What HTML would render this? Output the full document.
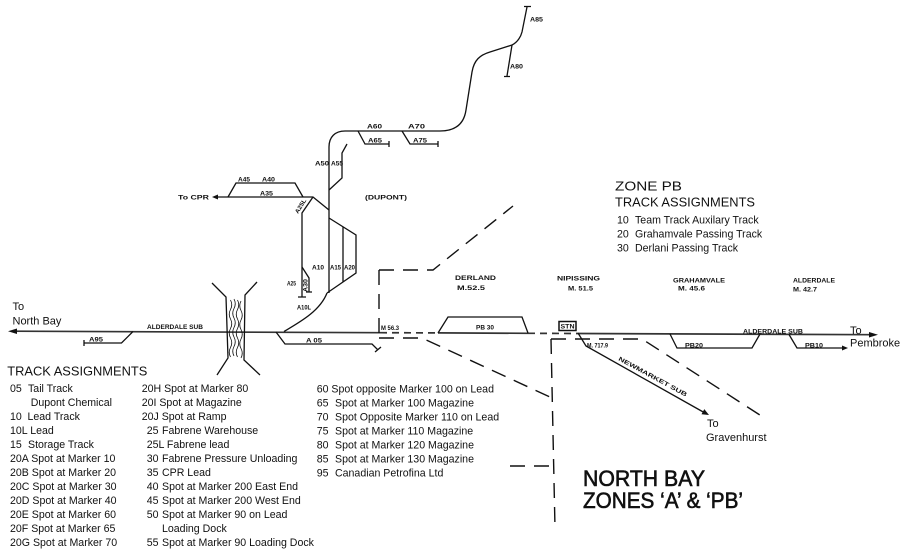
<!DOCTYPE html>
<html>
<head>
<meta charset="utf-8">
<style>
html,body{margin:0;padding:0;background:#fff;}
svg{display:block;}
.s{font-family:"Liberation Sans",sans-serif;font-weight:bold;font-size:6px;fill:#111;}
.t{font-family:"Liberation Sans",sans-serif;font-size:10.6px;fill:#111;}
.h{font-family:"Liberation Sans",sans-serif;font-size:13px;fill:#111;}
.g{font-family:"Liberation Sans",sans-serif;font-size:11px;fill:#111;}
.ti{font-family:"Liberation Sans",sans-serif;font-size:22px;fill:#111;stroke:#111;stroke-width:0.6;}
.ln{fill:none;stroke:#111;stroke-width:1.3;}
.dl{fill:none;stroke:#111;stroke-width:1.4;stroke-dasharray:15 9;}
</style>
</head>
<body>
<svg width="900" height="552" viewBox="0 0 900 552" xmlns="http://www.w3.org/2000/svg">
<rect width="900" height="552" fill="#fff"/>

<!-- main line -->
<g fill="none" stroke="#333" stroke-width="1.7">
<path d="M12,331.2 L380,332.7"/>
<path d="M380,332.7 L438,332.9" stroke-dasharray="7 5"/>
<path d="M438,332.9 L528,333.3"/>
<path d="M528,333.3 L578,333.5" stroke-dasharray="7 5"/>
<path d="M578,333.5 L872,334.7"/>
</g>
<polygon points="8,331.2 17,328.5 17,334" fill="#111"/>
<polygon points="878,334.7 869,332 869,337.5" fill="#111"/>

<!-- A95 siding -->
<path class="ln" d="M133,331.5 L121.5,343 H84 M84,340 V346"/>

<!-- bridge -->
<path class="ln" d="M212,283 L226,297 L228,358 L217,375"/>
<path class="ln" d="M257,282 L245,295 L244,360 L260,375"/>
<g fill="none" stroke="#111" stroke-width="0.8">
<path d="M230.5,300 q2.5,4.75 0,9.5 q-2.5,4.75 0,9.5 q2.5,4.75 0,9.5 q-2.5,4.75 0,9.5 q2.5,4.75 0,9.5 q-2.5,4.75 0,9.5"/>
<path d="M234,299 q2.5,4.75 0,9.5 q-2.5,4.75 0,9.5 q2.5,4.75 0,9.5 q-2.5,4.75 0,9.5 q2.5,4.75 0,9.5 q-2.5,4.75 0,9.5"/>
<path d="M237.5,300 q2.5,4.75 0,9.5 q-2.5,4.75 0,9.5 q2.5,4.75 0,9.5 q-2.5,4.75 0,9.5 q2.5,4.75 0,9.5 q-2.5,4.75 0,9.5"/>
<path d="M241,301 q-2.5,4.75 0,9.5 q2.5,4.75 0,9.5 q-2.5,4.75 0,9.5 q2.5,4.75 0,9.5 q-2.5,4.75 0,9.5 q2.5,4.75 0,9.5"/>
</g>

<!-- A05 -->
<path class="ln" d="M276,332 L285,344 H372 L378,350 M375,352 L381,347"/>

<!-- A10L curve -->
<path class="ln" d="M284,331.5 C300,322 320,311 327,293"/>

<!-- main Dupont lead vertical + upper line -->
<path class="ln" d="M329,293 V147 C329,137 335,131 345,131 H440 C455,131 464,124 466,110 L472,72 C474,60 480,55 490,52 L512,45 C518,42 521,36 522,32 L527,7 M524,6.5 H531"/>
<!-- A80 -->
<path class="ln" d="M512,45 L507,76 M504,76.5 H510"/>
<!-- A65, A75 -->
<path class="ln" d="M358,131 L365,144 H389 M389,141 V147"/>
<path class="ln" d="M402,131 L410,144 H438 M438,141 V147"/>
<!-- A55 -->
<path class="ln" d="M329,190 L342,178 V153 L347,144"/>

<!-- A35 / To CPR -->
<path class="ln" d="M218,197 H313 L329,210"/>
<polygon points="212,197 218,194.5 218,199.5" fill="#111"/>
<!-- A45/A40 -->
<path class="ln" d="M228,197 L236,183 H295 L303,197"/>
<!-- A25L -->
<path class="ln" d="M313,197 L302,213 V297 M298,297 H306"/>
<!-- A25 -->
<path class="ln" d="M302,267 L309,278 V292 M306,292 H312"/>
<!-- A10/A15/A20 -->
<path class="ln" d="M329,218 L356,235 V273 L327,293 M343,227 V282"/>

<!-- dashed zone boundaries -->
<path class="dl" d="M379,270 V338"/>
<path class="dl" d="M379,270 H433 L513,206"/>
<path class="dl" d="M379,338 H422 L550,397"/>
<path class="dl" d="M551,339 L555,528" stroke-dasharray="24 9"/>
<path class="dl" d="M551,339 H642 L763,417"/>
<path class="dl" d="M510,466 H551" stroke-dasharray="13 8"/>

<!-- PB30, STN -->
<path class="ln" d="M438,333 L448,317 H522 L528,333"/>
<rect x="559" y="321.5" width="17" height="9" fill="none" stroke="#111" stroke-width="1.5"/>

<!-- Newmarket -->
<path class="ln" d="M578,333 L586,346 L705,413"/>
<polygon points="709,415 701.5,414.3 704.3,409.1" fill="#111"/>

<!-- PB20, PB10 -->
<path class="ln" d="M670,334 L677,348 H752 L760,334"/>
<path class="ln" d="M789,334.5 L797,348 H844"/>
<polygon points="848,348 842,345.5 842,350.5" fill="#111"/>

<!-- small labels -->
<text class="s" x="147" y="329" textLength="56" lengthAdjust="spacingAndGlyphs">ALDERDALE SUB</text>
<text class="s" x="89" y="341.5" textLength="14" lengthAdjust="spacingAndGlyphs">A95</text>
<text class="s" x="306" y="342.5" textLength="16" lengthAdjust="spacingAndGlyphs">A 05</text>
<text class="s" x="381" y="330" textLength="18" lengthAdjust="spacingAndGlyphs">M 56.3</text>
<text class="s" x="476" y="329.5" textLength="18" lengthAdjust="spacingAndGlyphs">PB 30</text>
<text class="s" x="560.5" y="328.5" textLength="14" lengthAdjust="spacingAndGlyphs">STN</text>
<text class="s" x="455" y="280" textLength="41" lengthAdjust="spacingAndGlyphs">DERLAND</text>
<text class="s" x="457" y="290" textLength="28" lengthAdjust="spacingAndGlyphs">M.52.5</text>
<text class="s" x="557" y="280.5" textLength="43" lengthAdjust="spacingAndGlyphs">NIPISSING</text>
<text class="s" x="568" y="290.5" textLength="25" lengthAdjust="spacingAndGlyphs">M. 51.5</text>
<text class="s" x="673" y="282.5" textLength="52" lengthAdjust="spacingAndGlyphs">GRAHAMVALE</text>
<text class="s" x="678" y="290.5" textLength="27" lengthAdjust="spacingAndGlyphs">M. 45.6</text>
<text class="s" x="793" y="282.5" textLength="42" lengthAdjust="spacingAndGlyphs">ALDERDALE</text>
<text class="s" x="793" y="291.5" textLength="24" lengthAdjust="spacingAndGlyphs">M. 42.7</text>
<text class="s" x="587" y="347.5" textLength="21" lengthAdjust="spacingAndGlyphs">M. 717.9</text>
<text class="s" x="685" y="347.5" textLength="18" lengthAdjust="spacingAndGlyphs">PB20</text>
<text class="s" x="805" y="347.5" textLength="18" lengthAdjust="spacingAndGlyphs">PB10</text>
<text class="s" x="743" y="333.5" textLength="60" lengthAdjust="spacingAndGlyphs">ALDERDALE SUB</text>
<text class="s" transform="translate(618,360) rotate(28.5)" textLength="77" lengthAdjust="spacingAndGlyphs">NEWMARKET SUB</text>
<text class="s" x="365" y="199.5" textLength="42" lengthAdjust="spacingAndGlyphs">(DUPONT)</text>
<text class="s" x="238" y="181.5" textLength="12" lengthAdjust="spacingAndGlyphs">A45</text>
<text class="s" x="262" y="181.5" textLength="13" lengthAdjust="spacingAndGlyphs">A40</text>
<text class="s" x="260" y="195.5" textLength="13" lengthAdjust="spacingAndGlyphs">A35</text>
<text class="s" x="315" y="165.5" textLength="14" lengthAdjust="spacingAndGlyphs">A50</text>
<text class="s" x="331" y="165.5" textLength="12" lengthAdjust="spacingAndGlyphs">A55</text>
<text class="s" x="367" y="128.5" textLength="15" lengthAdjust="spacingAndGlyphs">A60</text>
<text class="s" x="408" y="128.5" textLength="17" lengthAdjust="spacingAndGlyphs">A70</text>
<text class="s" x="368" y="142.5" textLength="14" lengthAdjust="spacingAndGlyphs">A65</text>
<text class="s" x="413" y="142.5" textLength="14" lengthAdjust="spacingAndGlyphs">A75</text>
<text class="s" x="530" y="21.5" textLength="13" lengthAdjust="spacingAndGlyphs">A85</text>
<text class="s" x="510" y="68.5" textLength="13" lengthAdjust="spacingAndGlyphs">A80</text>
<text class="s" x="312" y="269.5" textLength="12" lengthAdjust="spacingAndGlyphs">A10</text>
<text class="s" x="330" y="269.5" textLength="11" lengthAdjust="spacingAndGlyphs">A15</text>
<text class="s" x="344" y="269.5" textLength="11" lengthAdjust="spacingAndGlyphs">A20</text>
<text class="s" x="287" y="285.5" textLength="9" lengthAdjust="spacingAndGlyphs">A25</text>
<text class="s" transform="translate(307.5,292) rotate(-90)" textLength="13" lengthAdjust="spacingAndGlyphs">A30</text>
<text class="s" x="297" y="309.5" textLength="14" lengthAdjust="spacingAndGlyphs">A10L</text>
<text class="s" transform="translate(298,214) rotate(-58)" textLength="16" lengthAdjust="spacingAndGlyphs">A25L</text>
<text class="s" x="178" y="199.5" font-weight="normal" font-size="7" textLength="31" lengthAdjust="spacingAndGlyphs">To CPR</text>

<!-- destination labels -->
<text class="g" x="12.5" y="310">To</text>
<text class="g" x="12.5" y="324.5">North Bay</text>
<text class="g" x="850" y="334">To</text>
<text class="g" x="850" y="346.5">Pembroke</text>
<text class="g" x="707" y="427">To</text>
<text class="g" x="706" y="441">Gravenhurst</text>

<!-- Zone PB -->
<text class="h" x="615" y="190.5" textLength="67" lengthAdjust="spacingAndGlyphs">ZONE PB</text>
<text class="h" x="615" y="206.5" textLength="140" lengthAdjust="spacingAndGlyphs">TRACK ASSIGNMENTS</text>
<text class="t" y="223.5"><tspan x="617">10</tspan><tspan x="635">Team Track Auxilary Track</tspan></text>
<text class="t" y="237.5"><tspan x="617">20</tspan><tspan x="635">Grahamvale Passing Track</tspan></text>
<text class="t" y="251.5"><tspan x="617">30</tspan><tspan x="635">Derlani Passing Track</tspan></text>

<!-- Track assignments left -->
<text class="h" x="7.3" y="375.5" textLength="140" lengthAdjust="spacingAndGlyphs">TRACK ASSIGNMENTS</text>
<text class="t" y="391.8"><tspan x="10">05</tspan><tspan x="28">Tail Track</tspan></text>
<text class="t" y="405.8" x="30.7">Dupont Chemical</text>
<text class="t" y="419.8"><tspan x="10">10</tspan><tspan x="27.5">Lead Track</tspan></text>
<text class="t" y="433.8" x="10">10L Lead</text>
<text class="t" y="447.8"><tspan x="10">15</tspan><tspan x="28">Storage Track</tspan></text>
<text class="t" y="461.8" x="10">20A Spot at Marker 10</text>
<text class="t" y="475.8" x="10">20B Spot at Marker 20</text>
<text class="t" y="489.8" x="10">20C Spot at Marker 30</text>
<text class="t" y="503.8" x="10">20D Spot at Marker 40</text>
<text class="t" y="517.8" x="10">20E Spot at Marker 60</text>
<text class="t" y="531.8" x="10">20F Spot at Marker 65</text>
<text class="t" y="545.8" x="10">20G Spot at Marker 70</text>

<text class="t" y="391.8" x="141.7">20H Spot at Marker 80</text>
<text class="t" y="405.8" x="141.7">20I Spot at Magazine</text>
<text class="t" y="419.8" x="141.7">20J Spot at Ramp</text>
<text class="t" y="433.8"><tspan x="146.7">25</tspan><tspan x="162">Fabrene Warehouse</tspan></text>
<text class="t" y="447.8" x="146.7">25L Fabrene lead</text>
<text class="t" y="461.8"><tspan x="146.7">30</tspan><tspan x="162">Fabrene Pressure Unloading</tspan></text>
<text class="t" y="475.8"><tspan x="146.7">35</tspan><tspan x="162">CPR Lead</tspan></text>
<text class="t" y="489.8"><tspan x="146.7">40</tspan><tspan x="162">Spot at Marker 200 East End</tspan></text>
<text class="t" y="503.8"><tspan x="146.7">45</tspan><tspan x="162">Spot at Marker 200 West End</tspan></text>
<text class="t" y="517.8"><tspan x="146.7">50</tspan><tspan x="162">Spot at Marker 90 on Lead</tspan></text>
<text class="t" y="531.8" x="162">Loading Dock</text>
<text class="t" y="545.8"><tspan x="146.7">55</tspan><tspan x="162">Spot at Marker 90 Loading Dock</tspan></text>

<text class="t" y="392.5" x="316.7">60 Spot opposite Marker 100 on Lead</text>
<text class="t" y="406.5"><tspan x="316.7">65</tspan><tspan x="335">Spot at Marker 100 Magazine</tspan></text>
<text class="t" y="420.5"><tspan x="316.7">70</tspan><tspan x="335">Spot Opposite Marker 110 on Lead</tspan></text>
<text class="t" y="434.5"><tspan x="316.7">75</tspan><tspan x="335">Spot at Marker 110 Magazine</tspan></text>
<text class="t" y="448.5"><tspan x="316.7">80</tspan><tspan x="335">Spot at Marker 120 Magazine</tspan></text>
<text class="t" y="462.5"><tspan x="316.7">85</tspan><tspan x="335">Spot at Marker 130 Magazine</tspan></text>
<text class="t" y="476.5"><tspan x="316.7">95</tspan><tspan x="335">Canadian Petrofina Ltd</tspan></text>

<!-- Title -->
<text class="ti" x="583" y="486" textLength="122" lengthAdjust="spacingAndGlyphs">NORTH BAY</text>
<text class="ti" x="583" y="508" textLength="160" lengthAdjust="spacingAndGlyphs">ZONES ‘A’ &amp; ‘PB’</text>
</svg>
</body>
</html>
